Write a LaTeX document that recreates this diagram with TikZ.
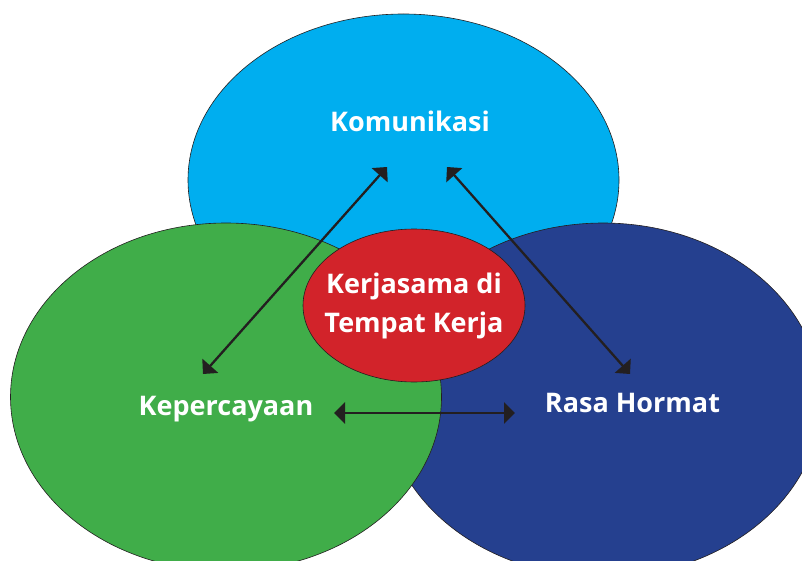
\documentclass[tikz,border=0pt]{standalone}
\usepackage{fontspec}
\setmainfont{Open Sans}
\usetikzlibrary{shapes.geometric,arrows.meta}
\definecolor{cblue}{HTML}{00AEEF}
\definecolor{cnavy}{HTML}{25408F}
\definecolor{cgreen}{HTML}{40AD49}
\definecolor{cred}{HTML}{D2232A}
\definecolor{cink}{HTML}{231F20}
\begin{document}
\begin{tikzpicture}[x=1pt,y=-1pt,
  bubble/.style={ellipse, draw=cink, line width=0.6pt, inner sep=0pt},
  lbl/.style={text=white, font=\fontsize{27}{39}\selectfont\bfseries, inner sep=0pt, align=center},
  link/.style={line width=2.3pt, draw=cink, {Triangle[width=21pt,length=11pt]}-{Triangle[width=21pt,length=11pt]}}]
\useasboundingbox (0,0) rectangle (802,561);
\clip (0,0) rectangle (802,561);
\node[bubble, fill=cblue, minimum width=431pt, minimum height=332pt] (kom) at (403.5,180) {};
\node[bubble, fill=cnavy, minimum width=436pt, minimum height=354pt] (hor) at (603,400) {};
\node[bubble, fill=cgreen, minimum width=431pt, minimum height=348pt] (kep) at (226,397) {};
\node[bubble, fill=cred, minimum width=222pt, minimum height=153pt] (ker) at (414,305.5) {};
\node[lbl, anchor=base] (tkom) at (410,131.7) {Komunikasi};
\node[lbl, anchor=base] (tkep) at (226,415) {Kepercayaan};
\node[lbl, anchor=base] (thor) at (632.5,412.7) {Rasa Hormat};
\node[lbl] (tker) at (414,306) {Kerjasama di\\Tempat Kerja};
\coordinate (a1) at (387,167);
\coordinate (a2) at (203,374);
\coordinate (b1) at (447,167);
\coordinate (b2) at (630,374);
\coordinate (c1) at (334,413);
\coordinate (c2) at (515,413);
\draw[link] (a1) -- (a2);
\draw[link] (b1) -- (b2);
\draw[link] (c1) -- (c2);
\end{tikzpicture}
\end{document}
